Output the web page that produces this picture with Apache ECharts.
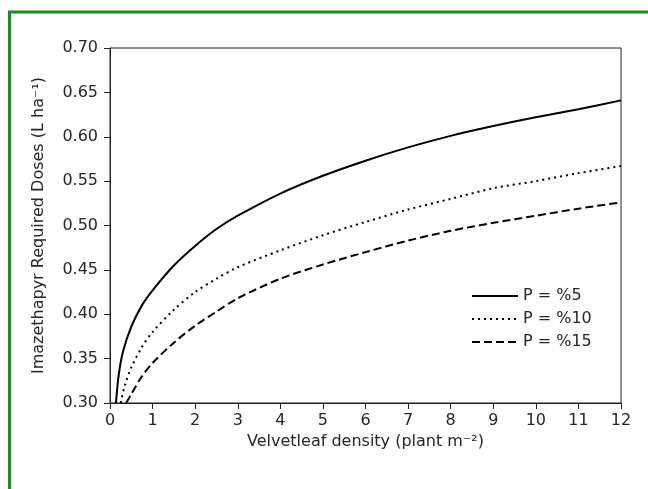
<!DOCTYPE html>
<html>
<head>
<meta charset="utf-8">
<script src="https://cdn.jsdelivr.net/npm/echarts@6/dist/echarts.min.js"></script>
<style>html,body{margin:0;padding:0;background:#fff}#c{width:648px;height:489px}</style>
</head>
<body>
<div id="c"></div>
<script>
var seriesNames = ['P = %5', 'P = %10', 'P = %15'];
var xTicks = [0,1,2,3,4,5,6,7,8,9,10,11,12];
var p5x  = [0.14,0.2,0.3,0.5,0.75,1,1.5,2,2.5,3,4,5,6,7,8,9,10,11,12];
var p5y  = [0.30,0.33,0.357,0.386,0.41,0.427,0.455,0.477,0.496,0.511,0.536,0.556,0.573,0.588,0.601,0.612,0.622,0.631,0.641];
var p10x = [0.25,0.35,0.5,0.75,1,1.5,2,2.5,3,4,5,6,7,8,9,10,11,12];
var p10y = [0.30,0.32,0.34,0.363,0.38,0.405,0.425,0.44,0.453,0.472,0.489,0.504,0.518,0.53,0.542,0.55,0.559,0.567];
var p15x = [0.38,0.5,0.75,1,1.5,2,2.5,3,4,5,6,7,8,9,10,11,12];
var p15y = [0.30,0.31,0.33,0.345,0.368,0.387,0.403,0.418,0.44,0.456,0.47,0.483,0.494,0.503,0.511,0.519,0.526];

function pairs(xs, ys){ return xs.map(function(x,i){ return [x, ys[i]]; }); }

var font = 'DejaVu Sans, sans-serif';
var txt = '#262626';
var chart = echarts.init(document.getElementById('c'));
chart.setOption({
  animation: false,
  backgroundColor: '#fff',
  graphic: [{
    type: 'rect', silent: true,
    shape: {x: 9.5, y: 12, width: 800, height: 800},
    style: {fill: 'none', stroke: '#1c8c1c', lineWidth: 3}
  }],
  grid: {left: 110, right: 27, top: 48, bottom: 86, show: true, borderColor: '#222', borderWidth: 1},
  legend: {
    orient: 'vertical', left: 466, top: 283,
    itemWidth: 46, itemHeight: 14, itemGap: 7,
    itemStyle: {opacity: 0},
    textStyle: {fontFamily: font, fontSize: 16, color: txt, lineHeight: 16},
    data: seriesNames
  },
  xAxis: {
    type: 'value', min: 0, max: 12, interval: 1,
    name: 'Velvetleaf density (plant m⁻²)', nameLocation: 'middle', nameGap: 24,
    nameTextStyle: {fontFamily: font, fontSize: 16, color: txt},
    axisLine: {show: true, lineStyle: {color: '#222', width: 1}},
    axisTick: {show: true, length: 6, lineStyle: {color: '#222'}},
    axisLabel: {fontFamily: font, fontSize: 16, color: txt, margin: 10,
      formatter: function(v){ return xTicks.indexOf(v) >= 0 ? String(v) : ''; }},
    splitLine: {show: false}
  },
  yAxis: {
    type: 'value', min: 0.30, max: 0.70, interval: 0.05,
    name: 'Imazethapyr Required Doses (L ha⁻¹)', nameLocation: 'middle', nameGap: 63,
    nameTextStyle: {fontFamily: font, fontSize: 16, color: txt},
    axisLine: {show: true, lineStyle: {color: '#222', width: 1}},
    axisTick: {show: true, length: 6, lineStyle: {color: '#222'}},
    axisLabel: {fontFamily: font, fontSize: 16, color: txt, margin: 12,
      formatter: function(v){ return v.toFixed(2); }},
    splitLine: {show: false}
  },
  series: [
    {name: seriesNames[0], type: 'line', smooth: 0.3, symbol: 'none', data: pairs(p5x, p5y),
     lineStyle: {color: '#000', width: 2, type: 'solid'}, itemStyle: {color: '#000'}},
    {name: seriesNames[1], type: 'line', smooth: 0.3, symbol: 'none', data: pairs(p10x, p10y),
     lineStyle: {color: '#000', width: 2, type: [2, 4]}, itemStyle: {color: '#000'}},
    {name: seriesNames[2], type: 'line', smooth: 0.3, symbol: 'none', data: pairs(p15x, p15y),
     lineStyle: {color: '#000', width: 2, type: [8, 4]}, itemStyle: {color: '#000'}}
  ]
});
</script>
</body>
</html>
